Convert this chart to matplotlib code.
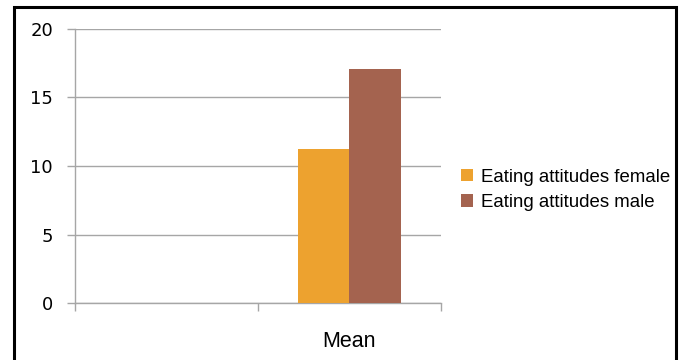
import matplotlib
matplotlib.use("Agg")
import matplotlib.pyplot as plt
from matplotlib.patches import Rectangle
import numpy as np

plt.rcParams['font.family'] = ['Liberation Sans', 'DejaVu Sans']

categories = ["", "Mean"]
series_names = ["Eating attitudes female", "Eating attitudes male"]
female_values = [0, 11.25]
male_values = [0, 17.1]
y_ticks = [0, 5, 10, 15, 20]

colors = ["#EDA22F", "#A4634F"]
grid_color = "#A6A6A6"

W, H = 685, 360
fig = plt.figure(figsize=(W / 100, H / 100), dpi=100)
ax = fig.add_axes([75 / W, 1 - 303 / H, (441 - 75) / W, (303 - 29) / H])

x = np.arange(len(categories))
bw = 0.284
# only the second category carries data
b1 = ax.bar(x[1:] - bw / 2, female_values[1:], bw, color=colors[0], zorder=3)
b2 = ax.bar(x[1:] + bw / 2, male_values[1:], bw, color=colors[1], zorder=3)

ax.set_xlim(-0.5, len(categories) - 0.5)
ax.set_ylim(0, 20)
ax.set_yticks(y_ticks)
ax.set_yticklabels([str(v) for v in y_ticks], family='DejaVu Sans', fontsize=13)
ax.tick_params(axis='y', length=5.8, color=grid_color, width=1, pad=10)
ax.yaxis.grid(True, color=grid_color, linewidth=1, zorder=0)
ax.set_axisbelow(True)

ax.set_xticks(x)
ax.set_xticklabels(categories, fontsize=15.5)
ax.set_xticks(np.arange(-0.5, len(categories)), minor=True)
ax.tick_params(axis='x', which='major', length=0, pad=20)
ax.tick_params(axis='x', which='minor', length=6, color=grid_color, width=1)

for s in ['top', 'right']:
    ax.spines[s].set_visible(False)
for s in ['left', 'bottom']:
    ax.spines[s].set_color(grid_color)
    ax.spines[s].set_linewidth(1)

fig.legend([b1, b2], series_names, loc='center left',
           bbox_to_anchor=(461 / W, 1 - 190 / H), frameon=False,
           fontsize=13.4, handlelength=0.65, handleheight=0.65,
           handletextpad=0.4, labelspacing=0.45, borderpad=0, borderaxespad=0)

fig.patches.append(Rectangle((13.5 / W, -0.05), (676 - 13.5) / W, 1.05 - 7.5 / H,
                             transform=fig.transFigure, fill=False,
                             edgecolor='black', linewidth=2.2, clip_on=False))

fig.savefig("out.png", dpi=100)
